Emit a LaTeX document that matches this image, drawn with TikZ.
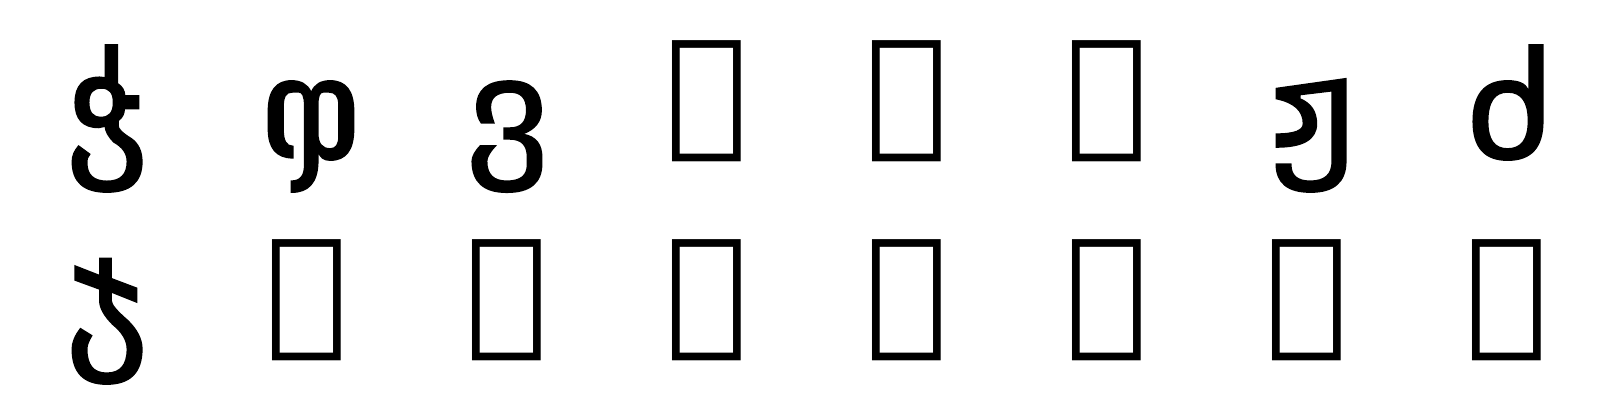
\documentclass[tikz,border=0pt]{standalone}
\usepackage{fontspec}
\newfontfamily\geofont[FakeBold=1.2]{DejaVu Sans Mono}
\newfontfamily\notdeffont{DejaVu Sans Mono}
\tikzset{
  glyph/.style={anchor=base,inner sep=0pt,font=\geofont\fontsize{44}{44}\selectfont},
  missing/.style={anchor=base,inner sep=0pt,font=\notdeffont\fontsize{39.1}{39.1}\selectfont}
}
\begin{document}
\begin{tikzpicture}
\useasboundingbox[fill=white] (0,0) rectangle (16,4);
% row 1
\node[glyph]   (a0) at (1.07,2.40)  {ჭ};
\node[glyph]   (a1) at (3.11,2.40)  {ჶ};
\node[glyph]   (a2) at (5.07,2.40)  {ვ};
\node[missing] (a3) at (7.064,2.63)  {Ა};
\node[missing] (a4) at (9.064,2.63)  {Ბ};
\node[missing] (a5) at (11.064,2.63) {Გ};
\node[glyph]   (a6) at (13.11,2.40) {ჟ};
\node[glyph]   (a7) at (15.08,2.40) {ძ};
% row 2
\node[glyph]   (b0) at (1.07,0.48)  {ჯ};
\node[missing] (b1) at (3.064,0.64)  {Დ};
\node[missing] (b2) at (5.064,0.64)  {Ე};
\node[missing] (b3) at (7.064,0.64)  {Ვ};
\node[missing] (b4) at (9.064,0.64)  {Ზ};
\node[missing] (b5) at (11.064,0.64) {Თ};
\node[missing] (b6) at (13.064,0.64) {Ი};
\node[missing] (b7) at (15.064,0.64) {Კ};
\end{tikzpicture}
\end{document}
